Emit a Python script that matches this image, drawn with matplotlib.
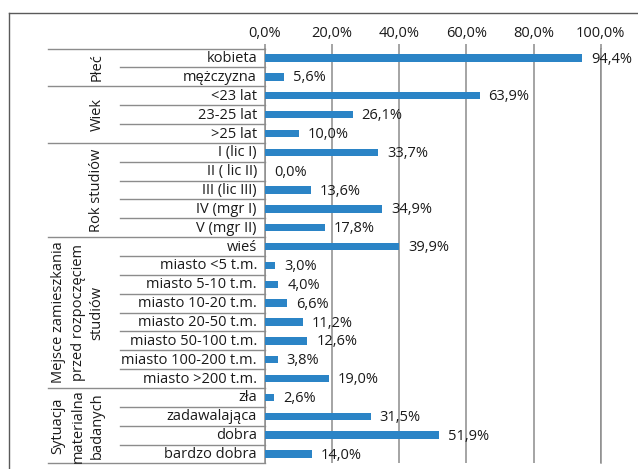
import matplotlib
matplotlib.use('Agg')
import matplotlib.pyplot as plt
from matplotlib import transforms
from matplotlib.lines import Line2D

plt.rcParams['font.family'] = ['Open Sans', 'DejaVu Sans']

categories = ['kobieta', 'mężczyzna', '<23 lat', '23-25 lat', '>25 lat',
              'I (lic I)', 'II ( lic II)', 'III (lic III)', 'IV (mgr I)', 'V (mgr II)',
              'wieś', 'miasto <5 t.m.', 'miasto 5-10 t.m.', 'miasto 10-20 t.m.',
              'miasto 20-50 t.m.', 'miasto 50-100 t.m.', 'miasto 100-200 t.m.',
              'miasto >200 t.m.', 'zła', 'zadawalająca', 'dobra', 'bardzo dobra']
values = [94.4, 5.6, 63.9, 26.1, 10.0, 33.7, 0.0, 13.6, 34.9, 17.8, 39.9,
          3.0, 4.0, 6.6, 11.2, 12.6, 3.8, 19.0, 2.6, 31.5, 51.9, 14.0]
group_labels = [['Płeć'], ['Wiek'], ['Rok studiów'],
                ['Mejsce zamieszkania', 'przed rozpoczęciem', 'studiów'],
                ['Sytuacja', 'materialna', 'badanych']]
group_sizes = [2, 3, 5, 8, 4]
xticks = [0, 20, 40, 60, 80, 100]
xtick_labels = ['0,0%', '20,0%', '40,0%', '60,0%', '80,0%', '100,0%']

W, H = 638, 469
bar_color = '#2B84C6'
grid_color = '#8C8C8C'
text_color = '#1A1A1A'
fs = 10.5

fig = plt.figure(figsize=(W / 100, H / 100), dpi=100)
x0, x1, y0, y1 = 265, 600.7, 48.6, 463.4
ax = fig.add_axes([x0 / W, 1 - y1 / H, (x1 - x0) / W, (y1 - y0) / H])

ypos = list(range(len(categories)))
ax.barh(ypos, values, height=0.39, color=bar_color, zorder=3)
ax.set_xlim(0, 100)
ax.set_ylim(len(categories) - 0.5, -0.5)

ax.xaxis.tick_top()
ax.set_xticks(xticks)
ax.set_xticklabels(xtick_labels)
ax.tick_params(axis='x', length=3.3, width=1.1, color=grid_color, pad=2.5,
               labelsize=fs, labelcolor=text_color)
ax.tick_params(axis='y', left=False, labelleft=False)
ax.grid(axis='x', color=grid_color, lw=1.1, zorder=1)
ax.set_axisbelow(True)
for s in ['top', 'bottom']:
    ax.spines[s].set_visible(False)
for s in ['left', 'right']:
    ax.spines[s].set_color(grid_color)
    ax.spines[s].set_linewidth(1.1)

blend = transforms.blended_transform_factory(fig.transFigure, ax.transData)

# separator lines in label area
group_bounds = set()
acc = -0.5
group_bounds.add(acc)
mids = []
for g in group_sizes:
    mids.append(acc + g / 2)
    acc += g
    group_bounds.add(acc)
for k in range(len(categories) + 1):
    b = k - 0.5
    xs = 48 if b in group_bounds else 120
    ax.add_line(Line2D([xs / W, x0 / W], [b, b], transform=blend, color=grid_color,
                       lw=1.0, clip_on=False))

# category labels
for i, c in enumerate(categories):
    ax.text(257 / W, i + 0.03, c, transform=blend, ha='right', va='center',
            fontsize=fs, color=text_color)

# group labels
line_x = {1: [97], 3: [58, 78, 97]}
for lines, m in zip(group_labels, mids):
    for lx, t in zip(line_x[len(lines)], lines):
        ax.text(lx / W, m, t, transform=blend, ha='center', va='center',
                rotation=90, fontsize=fs, color=text_color)

# data labels
for i, v in enumerate(values):
    ax.annotate(f'{v:.1f}%'.replace('.', ','), xy=(v, i), xytext=(6.5, -0.8),
                textcoords='offset points', ha='left', va='center',
                fontsize=fs, color=text_color)

# outer frame
fig.add_artist(Line2D([9 / W, 9 / W], [0, 1 - 13 / H], transform=fig.transFigure,
                      color='#5A5A5A', lw=1.0))
fig.add_artist(Line2D([9 / W, 1], [1 - 13 / H, 1 - 13 / H], transform=fig.transFigure,
                      color='#5A5A5A', lw=1.0))

fig.savefig('out.png', dpi=100)
